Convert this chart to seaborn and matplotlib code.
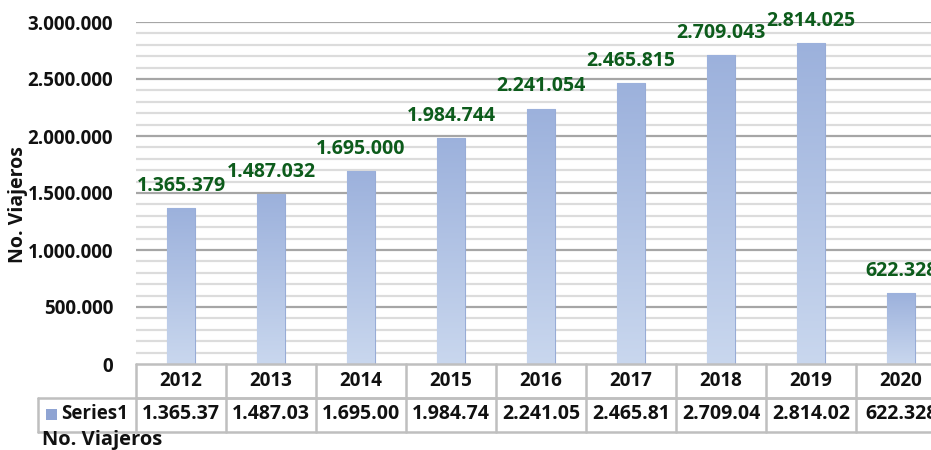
import numpy as np
import matplotlib
matplotlib.use("Agg")
import matplotlib.pyplot as plt
import seaborn as sns

years = ["2012", "2013", "2014", "2015", "2016", "2017", "2018", "2019", "2020"]
viajeros = [1365379, 1487032, 1695000, 1984744, 2241054, 2465815, 2709043, 2814025, 622328]
series_name = "Series1"
axis_title = "No. Viajeros"


def fmt_miles(v):
    return f"{v:,}".replace(",", ".")


sns.set_theme(style="white")
plt.rcParams["font.family"] = ["Open Sans", "DejaVu Sans"]
plt.rcParams["font.weight"] = "bold"

W, H = 931, 450
fig = plt.figure(figsize=(W / 100, H / 100), dpi=100)
fig.patch.set_facecolor("white")

# plot area in pixels: left 136, top 22, bottom 364, columns 90px wide
ax = fig.add_axes([136 / W, (H - 364) / H, 810 / W, 342 / H])
ax_h = 342.0
ax_w = 810.0


def ypx(p):
    # pixel offset below the x axis -> axes fraction
    return -p / ax_h


def xpx(p):
    # pixel x in figure -> axes fraction
    return (p - 136) / ax_w


sns.barplot(x=years, y=viajeros, ax=ax, width=0.31, color="#a9bbe0",
            edgecolor="#98acd6", linewidth=0.8, zorder=3)
ax.set_xlim(-0.5, len(years) - 0.5)
ax.set_ylim(0, 3000000)

# gradient fill clipped to each bar
grad = np.linspace(0, 1, 256).reshape(-1, 1)
cmap = matplotlib.colors.LinearSegmentedColormap.from_list("g", ["#c9d7ee", "#9cb1dc"])
for patch in ax.patches:
    x0, y0 = patch.get_x(), patch.get_y()
    w, h = patch.get_width(), patch.get_height()
    im = ax.imshow(grad, extent=(x0, x0 + w, y0, y0 + h), origin="lower",
                   aspect="auto", cmap=cmap, zorder=3.5)
    im.set_clip_path(patch)

# grid: major every 500k, minor every 100k
for v in np.arange(100000, 3000001, 100000):
    major = v % 500000 == 0
    ax.axhline(v, color="#a6a6a6" if major else "#dcdcdc", lw=1.6, zorder=1)
ax.set_yticks(np.arange(0, 3000001, 500000))
ax.set_yticklabels([fmt_miles(int(v)) for v in np.arange(0, 3000001, 500000)],
                   fontsize=13.5, fontweight="bold", color="#111111")
ax.tick_params(axis="y", length=0, pad=16.5)
ax.set_xticks([])
ax.set_xlabel("")
for s in ax.spines.values():
    s.set_visible(False)

# data labels
for i, v in enumerate(viajeros):
    ax.annotate(fmt_miles(v), (i, v), xytext=(0, 16), textcoords="offset points",
                ha="center", va="center", fontsize=14, fontweight="bold",
                color="#0d5c1c", zorder=5, annotation_clip=False)

# data table below the axis
lc = "#bfbfbf"
tr = ax.get_xaxis_transform()
kw = dict(color=lc, lw=1.8, clip_on=False, zorder=4)
ax.plot([0, 1.05], [0, 0], transform=ax.transAxes, **kw)
ax.plot([0, 1.05], [ypx(34), ypx(34)], transform=ax.transAxes, **kw)
ax.plot([xpx(38), 1.05], [ypx(34), ypx(34)], transform=ax.transAxes, **kw)
ax.plot([xpx(38), 1.05], [ypx(68), ypx(68)], transform=ax.transAxes, **kw)
ax.plot([xpx(38), xpx(38)], [ypx(34), ypx(68)], transform=ax.transAxes, **kw)
for i in range(len(years) + 1):
    ax.plot([i - 0.5, i - 0.5], [0, ypx(68)], transform=tr, **kw)

for i, (yr, v) in enumerate(zip(years, viajeros)):
    ax.text(i, ypx(17), yr, transform=tr, ha="center", va="center",
            fontsize=13.5, fontweight="bold", color="#111111", clip_on=False)
    ax.text(i, ypx(50), fmt_miles(v)[:8], transform=tr, ha="center", va="center",
            fontsize=14, fontweight="bold", color="#111111", clip_on=False)

# legend key cell
fig.patches.append(matplotlib.patches.Rectangle(
    (46 / W, (H - 420) / H), 11 / W, 11 / H, transform=fig.transFigure,
    facecolor="#8fa4d3", edgecolor="none"))
fig.text(61 / W, (H - 414) / H, series_name, ha="left", va="center",
         fontsize=13.5, fontweight="bold", color="#111111")

# axis titles
fig.text(18 / W, (H - 205) / H, axis_title, rotation=90, ha="center", va="center",
         fontsize=14, fontweight="bold", color="#111111")
fig.text(42 / W, (H - 440) / H, axis_title, ha="left", va="center",
         fontsize=14.5, fontweight="bold", color="#111111")

fig.savefig("out.png", dpi=100)
